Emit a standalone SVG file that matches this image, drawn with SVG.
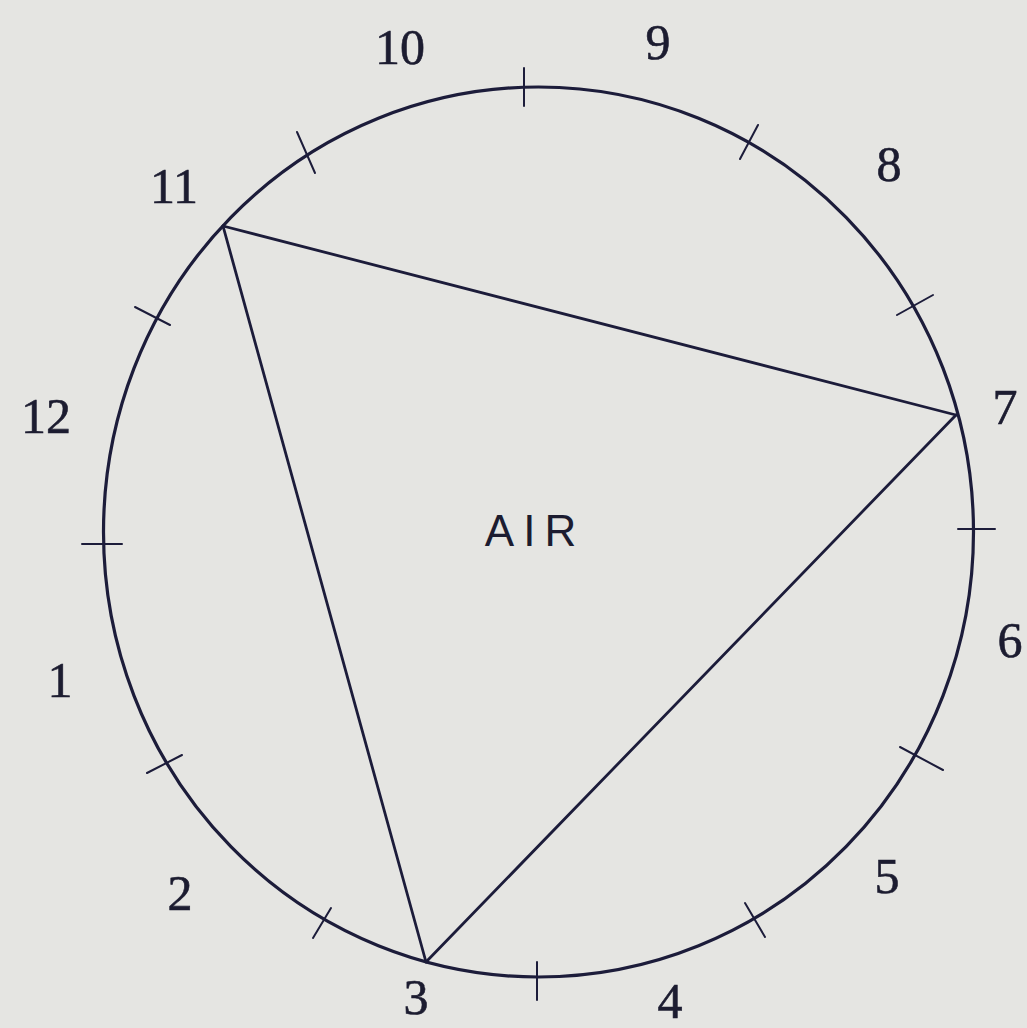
<svg xmlns="http://www.w3.org/2000/svg" width="1027" height="1028" viewBox="0 0 1027 1028">
<style>
.bg{fill:#e5e5e2}
.rim{fill:none;stroke:#1c1c3a;stroke-width:3.2}
.tick{stroke:#1c1c3a;stroke-width:2;stroke-linecap:round}
.edge{stroke:#1c1c3a;stroke-width:2.8;fill:none;stroke-linecap:round}
.num{font-family:"Liberation Serif","DejaVu Serif",serif;font-size:50px;fill:#1c1c30;text-anchor:middle;dominant-baseline:central;stroke:#1c1c30;stroke-width:0.6}
.lbl{font-family:"Liberation Sans",Arial,sans-serif;font-size:44px;fill:#1c1c30;text-anchor:middle;dominant-baseline:central;letter-spacing:9px}
</style>
<rect class="bg" x="0" y="0" width="1027" height="1028"/>
<g id="circle">
<ellipse class="rim" cx="538.5" cy="532" rx="435" ry="445"/>
</g>
<g id="ticks">
<line class="tick" x1="524" y1="68" x2="524" y2="106"/>
<line class="tick" x1="758" y1="125" x2="740" y2="159"/>
<line class="tick" x1="933" y1="295" x2="897" y2="315"/>
<line class="tick" x1="958" y1="529" x2="995" y2="529"/>
<line class="tick" x1="900" y1="747" x2="943" y2="770"/>
<line class="tick" x1="745" y1="903" x2="765" y2="937"/>
<line class="tick" x1="537" y1="962" x2="537" y2="1000"/>
<line class="tick" x1="331" y1="908" x2="313" y2="938"/>
<line class="tick" x1="147" y1="773" x2="182" y2="755"/>
<line class="tick" x1="82" y1="544" x2="122" y2="544"/>
<line class="tick" x1="135" y1="307" x2="170" y2="325"/>
<line class="tick" x1="297" y1="132" x2="315" y2="173"/>
</g>
<g id="connectors">
<line class="edge" x1="223" y1="226" x2="956" y2="415"/>
<line class="edge" x1="956" y1="415" x2="426" y2="962"/>
<line class="edge" x1="426" y1="962" x2="223" y2="226"/>
</g>
<g id="label-air"><text class="lbl" x="535" y="530">AIR</text></g>
<g id="labels">
<text class="num" x="46" y="416">12</text>
<text class="num" x="60" y="680">1</text>
<text class="num" x="180" y="893">2</text>
<text class="num" x="416" y="997">3</text>
<text class="num" x="670" y="1001">4</text>
<text class="num" x="887" y="876">5</text>
<text class="num" x="1010" y="640">6</text>
<text class="num" x="1005" y="407">7</text>
<text class="num" x="889" y="164">8</text>
<text class="num" x="658" y="42">9</text>
<text class="num" x="400" y="47">10</text>
<text class="num" x="174" y="186">11</text>
</g>
</svg>
